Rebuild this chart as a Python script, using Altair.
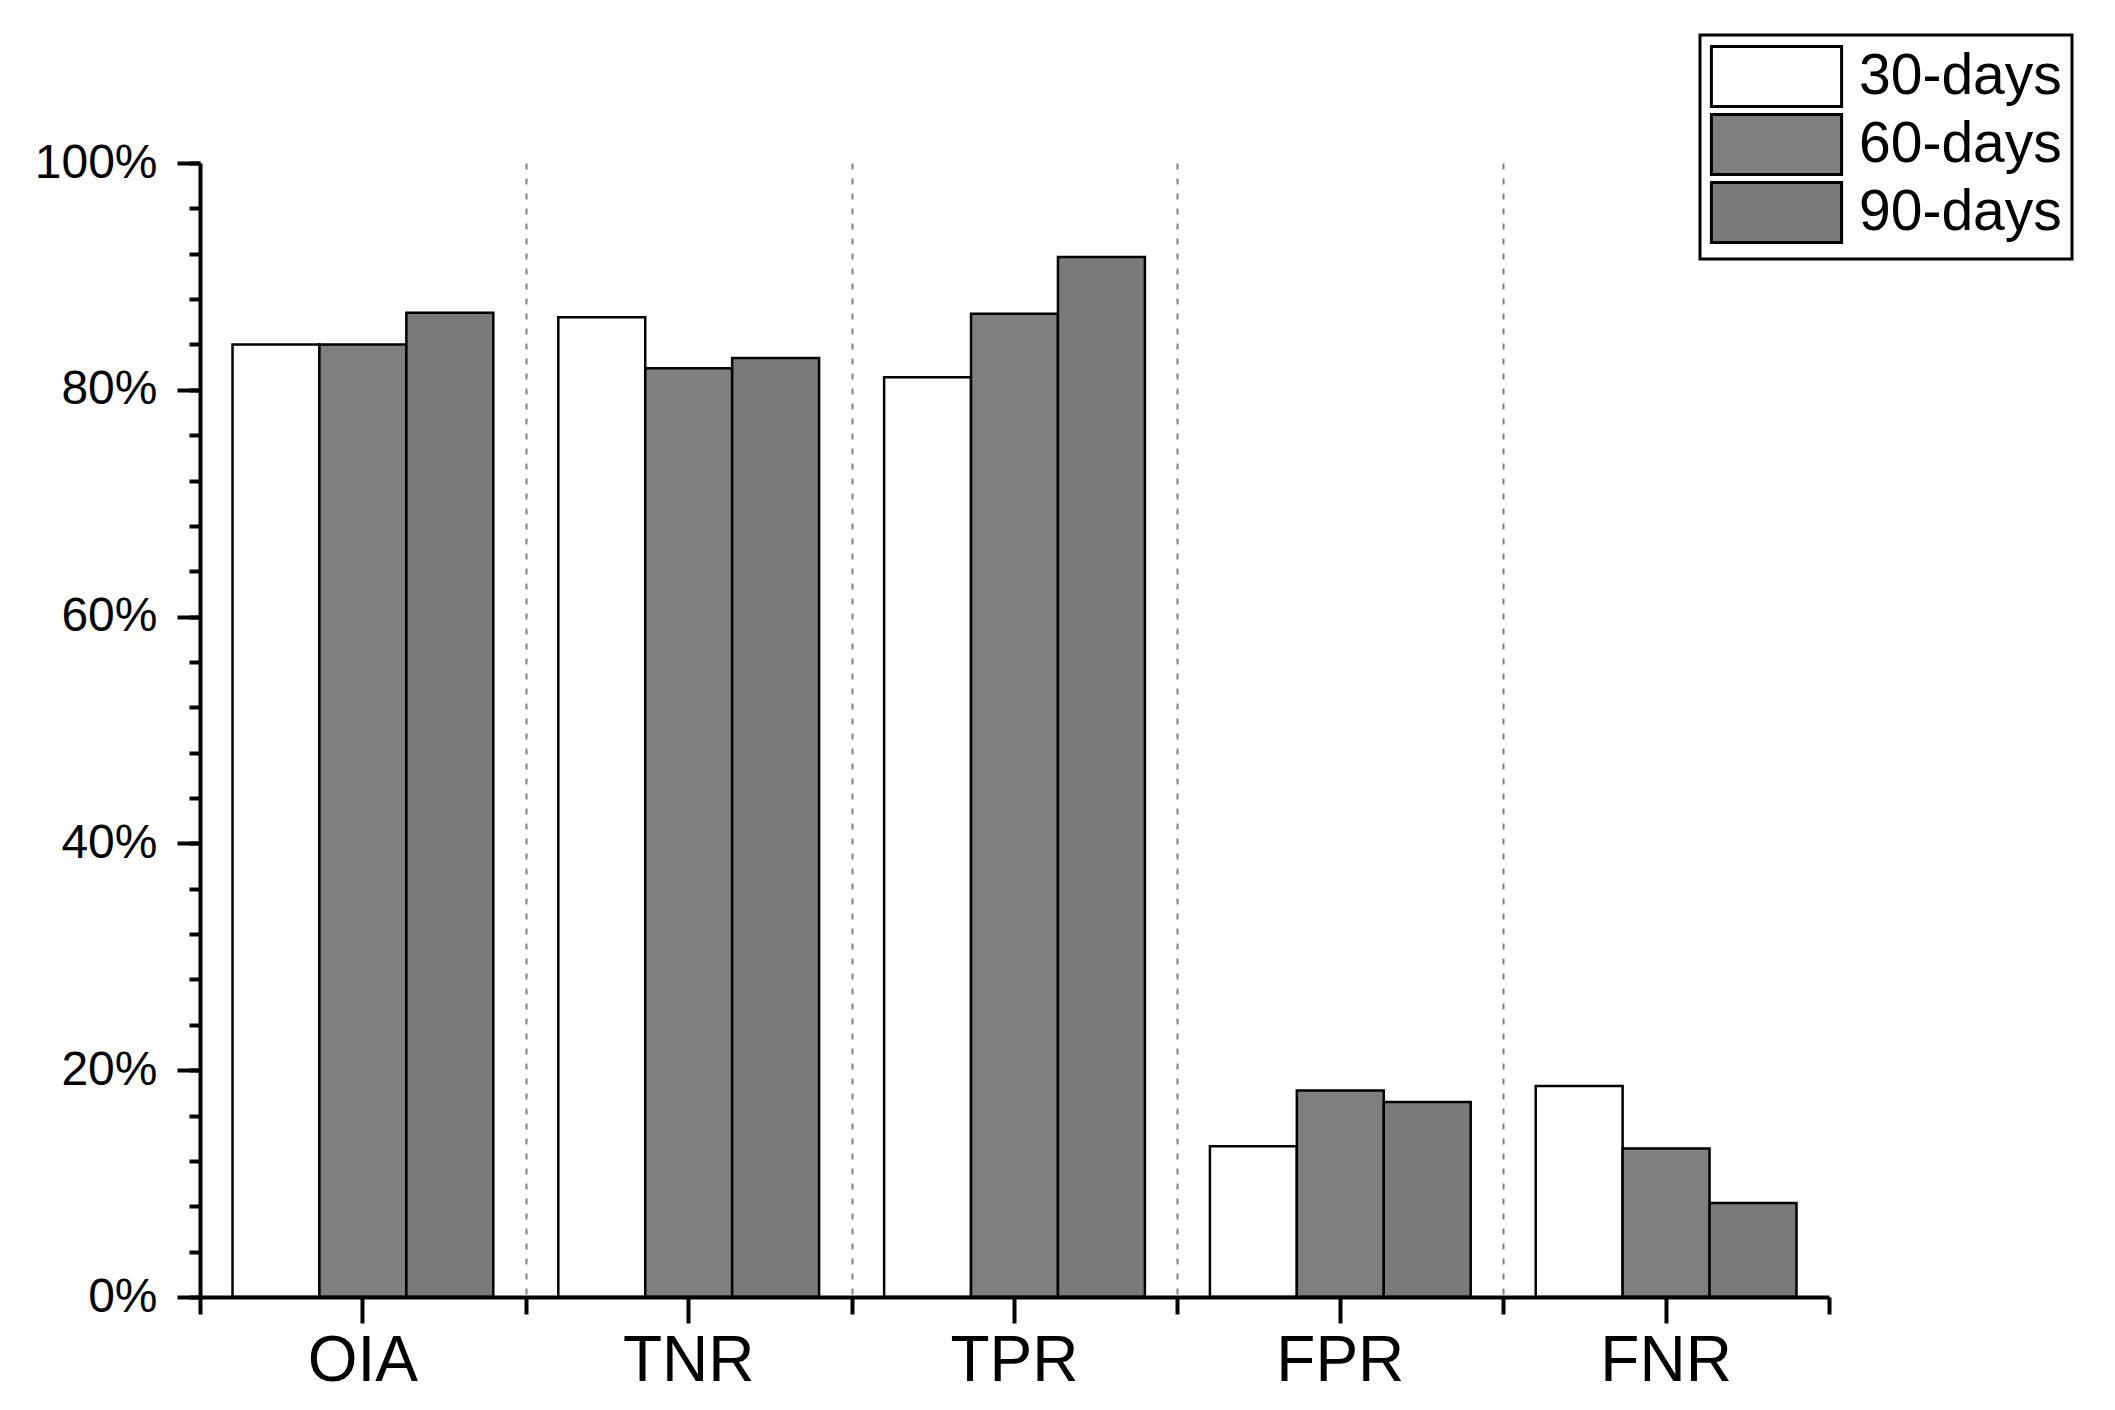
import altair as alt
import pandas as pd

# ---- data ----
metrics = ["OIA", "TNR", "TPR", "FPR", "FNR"]
periods = ["30-days", "60-days", "90-days"]
vals_30 = [84.0, 86.4, 81.1, 13.3, 18.6]
vals_60 = [84.0, 81.9, 86.7, 18.2, 13.1]
vals_90 = [86.8, 82.8, 91.7, 17.2, 8.3]
fills = ["#ffffff", "#7f7f7f", "#7a7a7a"]
y_major = [0, 0.2, 0.4, 0.6, 0.8, 1.0]
y_minor = [round(i * 0.04, 2) for i in range(26)]

rows = []
for per, vals in zip(periods, [vals_30, vals_60, vals_90]):
    for m, v in zip(metrics, vals):
        rows.append({"metric": m, "period": per, "value": v / 100.0})
df = pd.DataFrame(rows)

FONT = "Liberation Sans"

bars = alt.Chart(df).mark_bar(stroke="black", strokeWidth=2.5).encode(
    x=alt.X(
        "metric:N", sort=metrics,
        scale=alt.Scale(paddingInner=0, paddingOuter=0),
        axis=alt.Axis(title=None, orient="bottom", labelAngle=0, labelFontSize=64,
                      labelFont=FONT, labelColor="black", labelPadding=6,
                      tickSize=26, tickWidth=4, tickColor="black",
                      domainColor="black", domainWidth=4, grid=False, zindex=1),
    ),
    xOffset=alt.XOffset("period:N", sort=periods,
                        scale=alt.Scale(paddingInner=0, paddingOuter=0.374)),
    y=alt.Y(
        "value:Q",
        scale=alt.Scale(domain=[0, 1], nice=False, zero=True),
        axis=alt.Axis(title=None, orient="left", values=y_major, format=".0%",
                      labelFontSize=48, labelFont=FONT, labelColor="black",
                      labelPadding=20, tickSize=23, tickWidth=4, tickColor="black",
                      domainColor="black", domainWidth=4, grid=False, zindex=1),
    ),
    fill=alt.Fill(
        "period:N", sort=periods,
        scale=alt.Scale(domain=periods, range=fills),
        legend=alt.Legend(
            title=None, orient="none", legendX=1500, legendY=-128,
            symbolType="M-2.17,-1H2.17V1H-2.17Z", symbolSize=3600,
            symbolStrokeColor="black", symbolStrokeWidth=3, symbolOffset=35,
            labelFontSize=57, labelFont=FONT, labelColor="black", labelOffset=51,
            labelLimit=600, rowPadding=-7, padding=10, strokeColor="black",
            fillColor="white",
        ),
    ),
)

ghost = alt.Chart(df).mark_bar(opacity=0).encode(
    x=alt.X(
        "metric:N", sort=metrics,
        axis=alt.Axis(title=None, orient="bottom", labels=False, domain=False,
                      tickBand="extent", tickSize=17, tickWidth=4, tickColor="black",
                      grid=True, gridColor="#808080", gridWidth=2, gridDash=[6, 9],
                      gridOpacity={"condition": {"test": "datum.value === 'FNR'", "value": 0},
                                   "value": 1}),
    ),
    xOffset=alt.XOffset("period:N", sort=periods),
    y=alt.Y(
        "value:Q",
        axis=alt.Axis(title=None, orient="left", values=y_minor, labels=False,
                      domain=False, tickSize=11, tickWidth=4, tickColor="black",
                      grid=False),
    ),
)

chart = alt.layer(bars, ghost).resolve_axis(
    x="independent", y="independent"
).properties(
    width=1629, height=1134,
    autosize=alt.AutoSizeParams(type="none"),
    padding={"left": 192, "top": 155, "right": 270, "bottom": 100},
).configure_view(stroke=None).configure_legend(strokeWidth=3)

chart.save("out.html", embed_options={"renderer": "svg", "actions": False})
